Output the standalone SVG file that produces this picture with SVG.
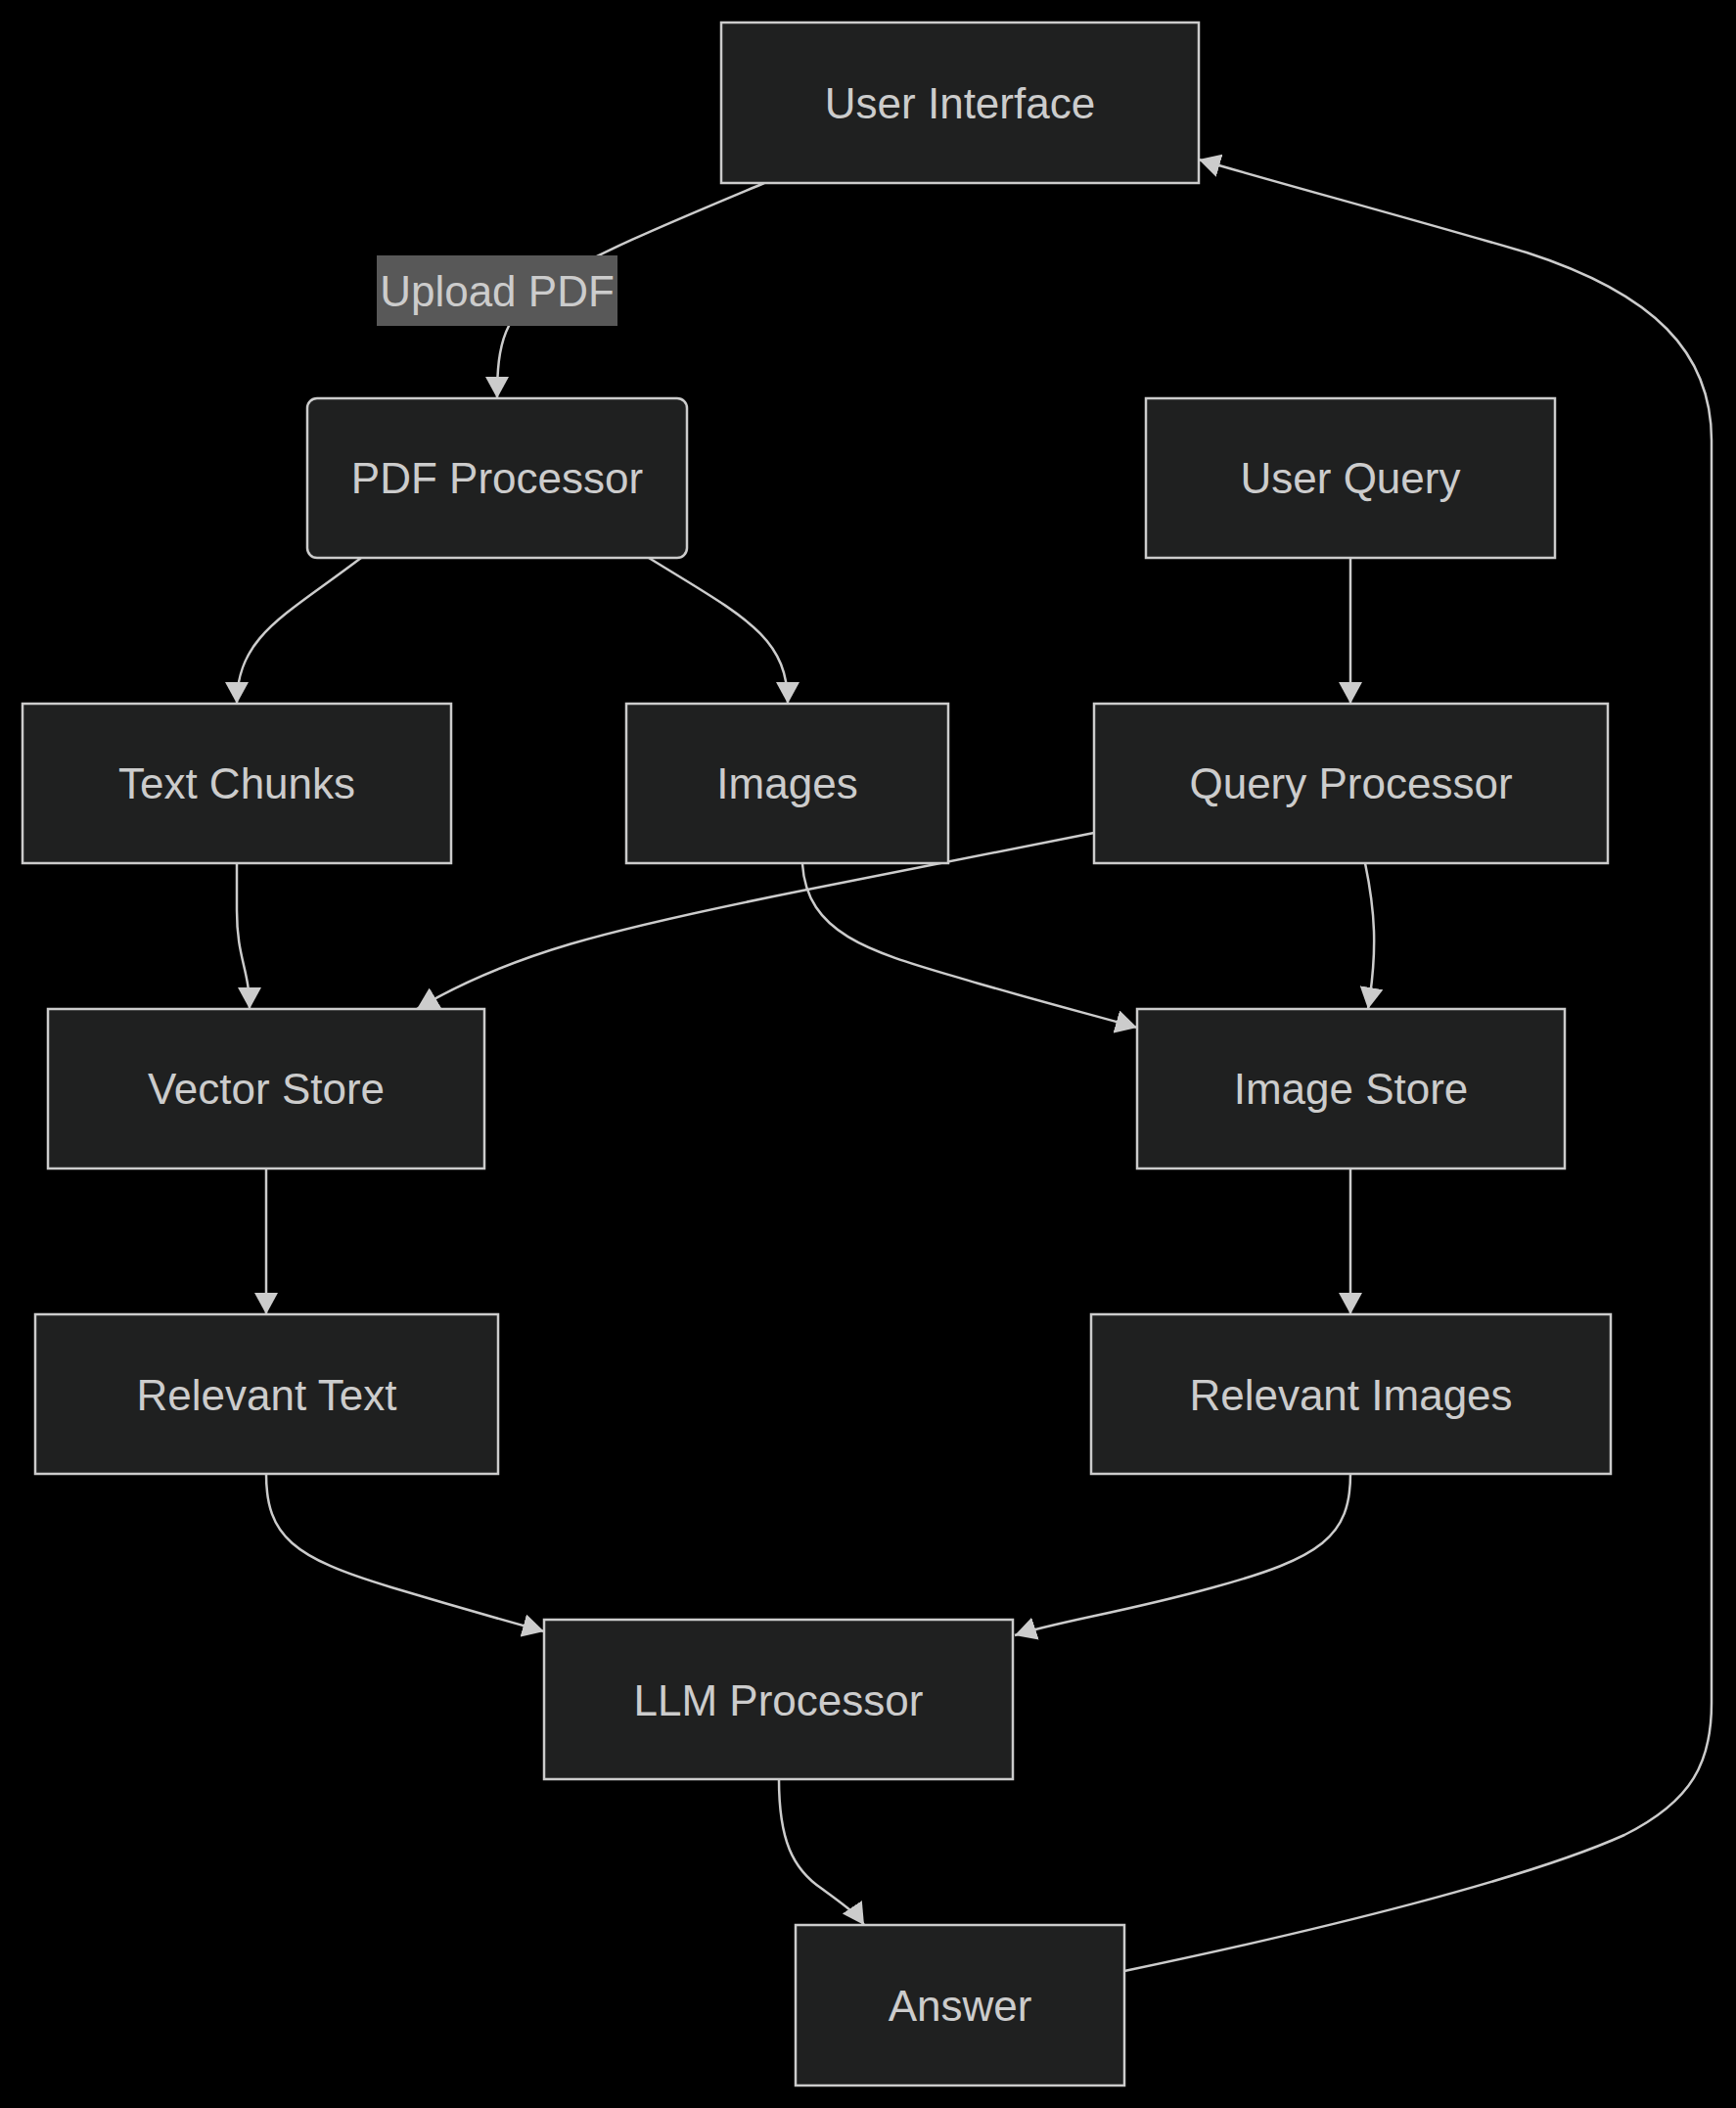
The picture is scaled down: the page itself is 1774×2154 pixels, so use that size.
<svg xmlns="http://www.w3.org/2000/svg" width="1774" height="2154" viewBox="0 0 1774 2154">
<style>
.node rect{fill:#1f2020;stroke:#cccccc;stroke-width:2.5}
.node text,.lbl text{font-family:"Liberation Sans",Arial,sans-serif;font-size:44px;fill:#cccccc;text-anchor:middle}
.edge{fill:none;stroke:#cccccc;stroke-width:2.5;marker-end:url(#arr)}
.lbl rect{fill:#585858}
</style>
<defs>
<marker id="arr" markerUnits="userSpaceOnUse" markerWidth="22" markerHeight="24" refX="22" refY="12" orient="auto" viewBox="0 0 22 24">
<path d="M0,0 L22,12 L0,24 z" fill="#cccccc"/>
</marker>
</defs>
<rect width="1774" height="2154" fill="#000000"/>
<g id="connectors">
<path class="edge" d="M781,187 C700,221 600,262 560,290 C515,322 508,350 508,407"/>
<path class="edge" d="M369,570 C290,630 242,650 242,719"/>
<path class="edge" d="M663,570 C760,630 805,650 805,719"/>
<path class="edge" d="M1380,570 L1380,719"/>
<path class="edge" d="M242,882 L242,930 C242,980 255,990 255,1031"/>
<path class="edge" d="M1118,851 L820,910 C620,950 520,975 426,1031"/>
<path class="edge" d="M820,883 C825,960 900,975 1000,1005 C1080,1028 1120,1038 1162,1050"/>
<path class="edge" d="M1395,882 C1405,930 1408,970 1398,1031"/>
<path class="edge" d="M272,1194 L272,1343"/>
<path class="edge" d="M1380,1194 L1380,1343"/>
<path class="edge" d="M272,1506 C272,1570 300,1592 400,1622 C470,1643 520,1657 556,1667"/>
<path class="edge" d="M1380,1506 C1380,1570 1350,1592 1240,1622 C1150,1647 1080,1657 1037,1671"/>
<path class="edge" d="M796,1818 C796,1880 810,1910 840,1930 C860,1945 875,1955 883,1967"/>
<path class="edge" d="M1149,2014 C1350,1972 1560,1920 1660,1875 C1730,1840 1749,1800 1749,1740 L1749,450 C1749,360 1690,300 1560,258 C1430,220 1310,188 1225,163"/>
<g class="lbl" id="label-upload">
<rect x="385" y="261" width="246" height="72"/>
<text x="508" y="313">Upload PDF</text>
</g>
</g>
<g class="node" id="ui"><rect x="737" y="23" width="488" height="164"/><text x="981" y="121">User Interface</text></g>
<g class="node" id="pdf"><rect x="314" y="407" width="388" height="163" rx="10"/><text x="508" y="504">PDF Processor</text></g>
<g class="node" id="uq"><rect x="1171" y="407" width="418" height="163"/><text x="1380" y="504">User Query</text></g>
<g class="node" id="tc"><rect x="23" y="719" width="438" height="163"/><text x="242" y="816">Text Chunks</text></g>
<g class="node" id="img"><rect x="640" y="719" width="329" height="163"/><text x="804.5" y="816">Images</text></g>
<g class="node" id="qp"><rect x="1118" y="719" width="525" height="163"/><text x="1380.5" y="816">Query Processor</text></g>
<g class="node" id="vs"><rect x="49" y="1031" width="446" height="163"/><text x="272" y="1128">Vector Store</text></g>
<g class="node" id="is"><rect x="1162" y="1031" width="437" height="163"/><text x="1380.5" y="1128">Image Store</text></g>
<g class="node" id="rt"><rect x="36" y="1343" width="473" height="163"/><text x="272.5" y="1441">Relevant Text</text></g>
<g class="node" id="ri"><rect x="1115" y="1343" width="531" height="163"/><text x="1380.5" y="1441">Relevant Images</text></g>
<g class="node" id="llm"><rect x="556" y="1655" width="479" height="163"/><text x="795.5" y="1753">LLM Processor</text></g>
<g class="node" id="ans"><rect x="813" y="1967" width="336" height="164"/><text x="981" y="2065">Answer</text></g>
</svg>
